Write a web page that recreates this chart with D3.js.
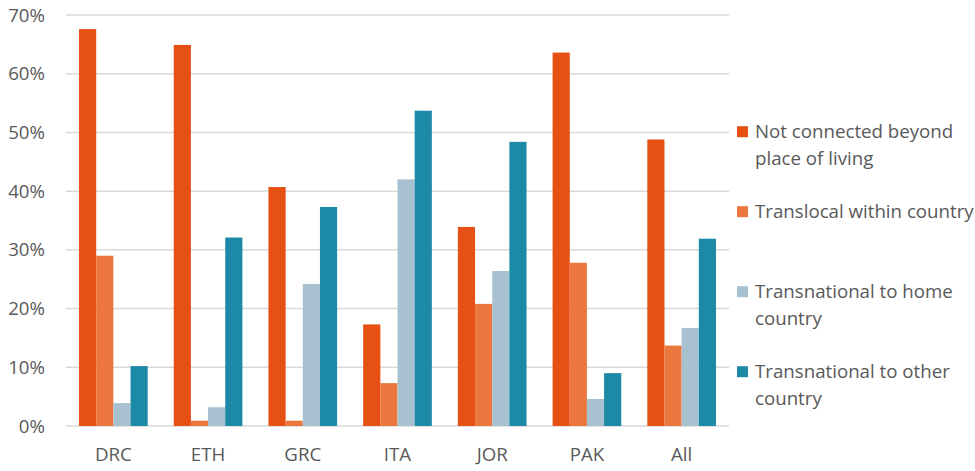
<!DOCTYPE html>
<html><head><meta charset="utf-8">
<script src="https://cdn.jsdelivr.net/npm/d3@7"></script>
<style>body{margin:0;background:#fff}svg{display:block}text{font-family:"Open Sans",sans-serif;fill:#595959}</style>
</head><body><svg id="c" width="975" height="471"></svg>
<script>
const categories = ["DRC","ETH","GRC","ITA","JOR","PAK","All"];
const seriesNames = ["Not connected beyond place of living","Translocal within country","Transnational to home country","Transnational to other country"];
const notConnected = [67.6,64.9,40.7,17.3,33.9,63.6,48.8];
const translocal = [29.0,0.9,0.9,7.3,20.8,27.8,13.7];
const transHome = [3.9,3.2,24.2,42.0,26.4,4.6,16.7];
const transOther = [10.2,32.1,37.3,53.7,48.4,9.0,31.9];
const yTicks = [0,10,20,30,40,50,60,70];
const colors = ["#E65013","#EC773E","#A7C1D1","#1C8AA7"];
const legendLines = [["Not connected beyond","place of living"],["Translocal within country"],["Transnational to home","country"],["Transnational to other","country"]];

const series = [notConnected, translocal, transHome, transOther];
const FS = 18.7;
const svg = d3.select("#c");
const m = {l:66, r:729, t:15, b:426};
const x = d3.scaleBand().domain(categories).range([m.l, m.r]).paddingInner(0.275).paddingOuter(0.1375);
const xs = d3.scaleBand().domain(d3.range(4)).range([0, x.bandwidth()]);
const y = d3.scaleLinear().domain([0,70]).range([m.b, m.t]);

svg.append("g").selectAll("line").data(yTicks).join("line")
  .attr("x1", m.l).attr("x2", m.r).attr("y1", d=>y(d)).attr("y2", d=>y(d))
  .attr("stroke", "#d9d9d9").attr("stroke-width", 1.5);

svg.append("g").selectAll("text").data(yTicks).join("text")
  .attr("x", 45).attr("y", d=>y(d)).attr("dy","0.35em").attr("text-anchor","end")
  .attr("font-size", FS).text(d=>d+"%");

const g = svg.append("g").selectAll("g").data(categories).join("g")
  .attr("transform", d=>`translate(${x(d)},0)`);
g.selectAll("rect").data((d,i)=>series.map((s,j)=>({v:s[i], j}))).join("rect")
  .attr("x", d=>xs(d.j)).attr("width", xs.bandwidth())
  .attr("y", d=>y(d.v)).attr("height", d=>y(0)-y(d.v))
  .attr("fill", d=>colors[d.j]);

svg.append("g").selectAll("text").data(categories).join("text")
  .attr("x", d=>x(d)+x.bandwidth()/2).attr("y", 454).attr("dy","0.35em")
  .attr("text-anchor","middle").attr("font-size",FS).text(d=>d);

const lg = svg.append("g").selectAll("g").data(legendLines).join("g")
  .attr("transform",(d,i)=>`translate(737,${131.7+80*i})`);
lg.append("rect").attr("x",0).attr("y",-5.5).attr("width",11).attr("height",11).attr("fill",(d,i)=>colors[i]);
lg.each(function(d){
  const t = d3.select(this).append("text").attr("x",18).attr("font-size",FS);
  d.forEach((s,k)=>t.append("tspan").attr("x",18).attr("y",k*26.3).attr("dy","0.35em").text(s));
});
</script></body></html>
